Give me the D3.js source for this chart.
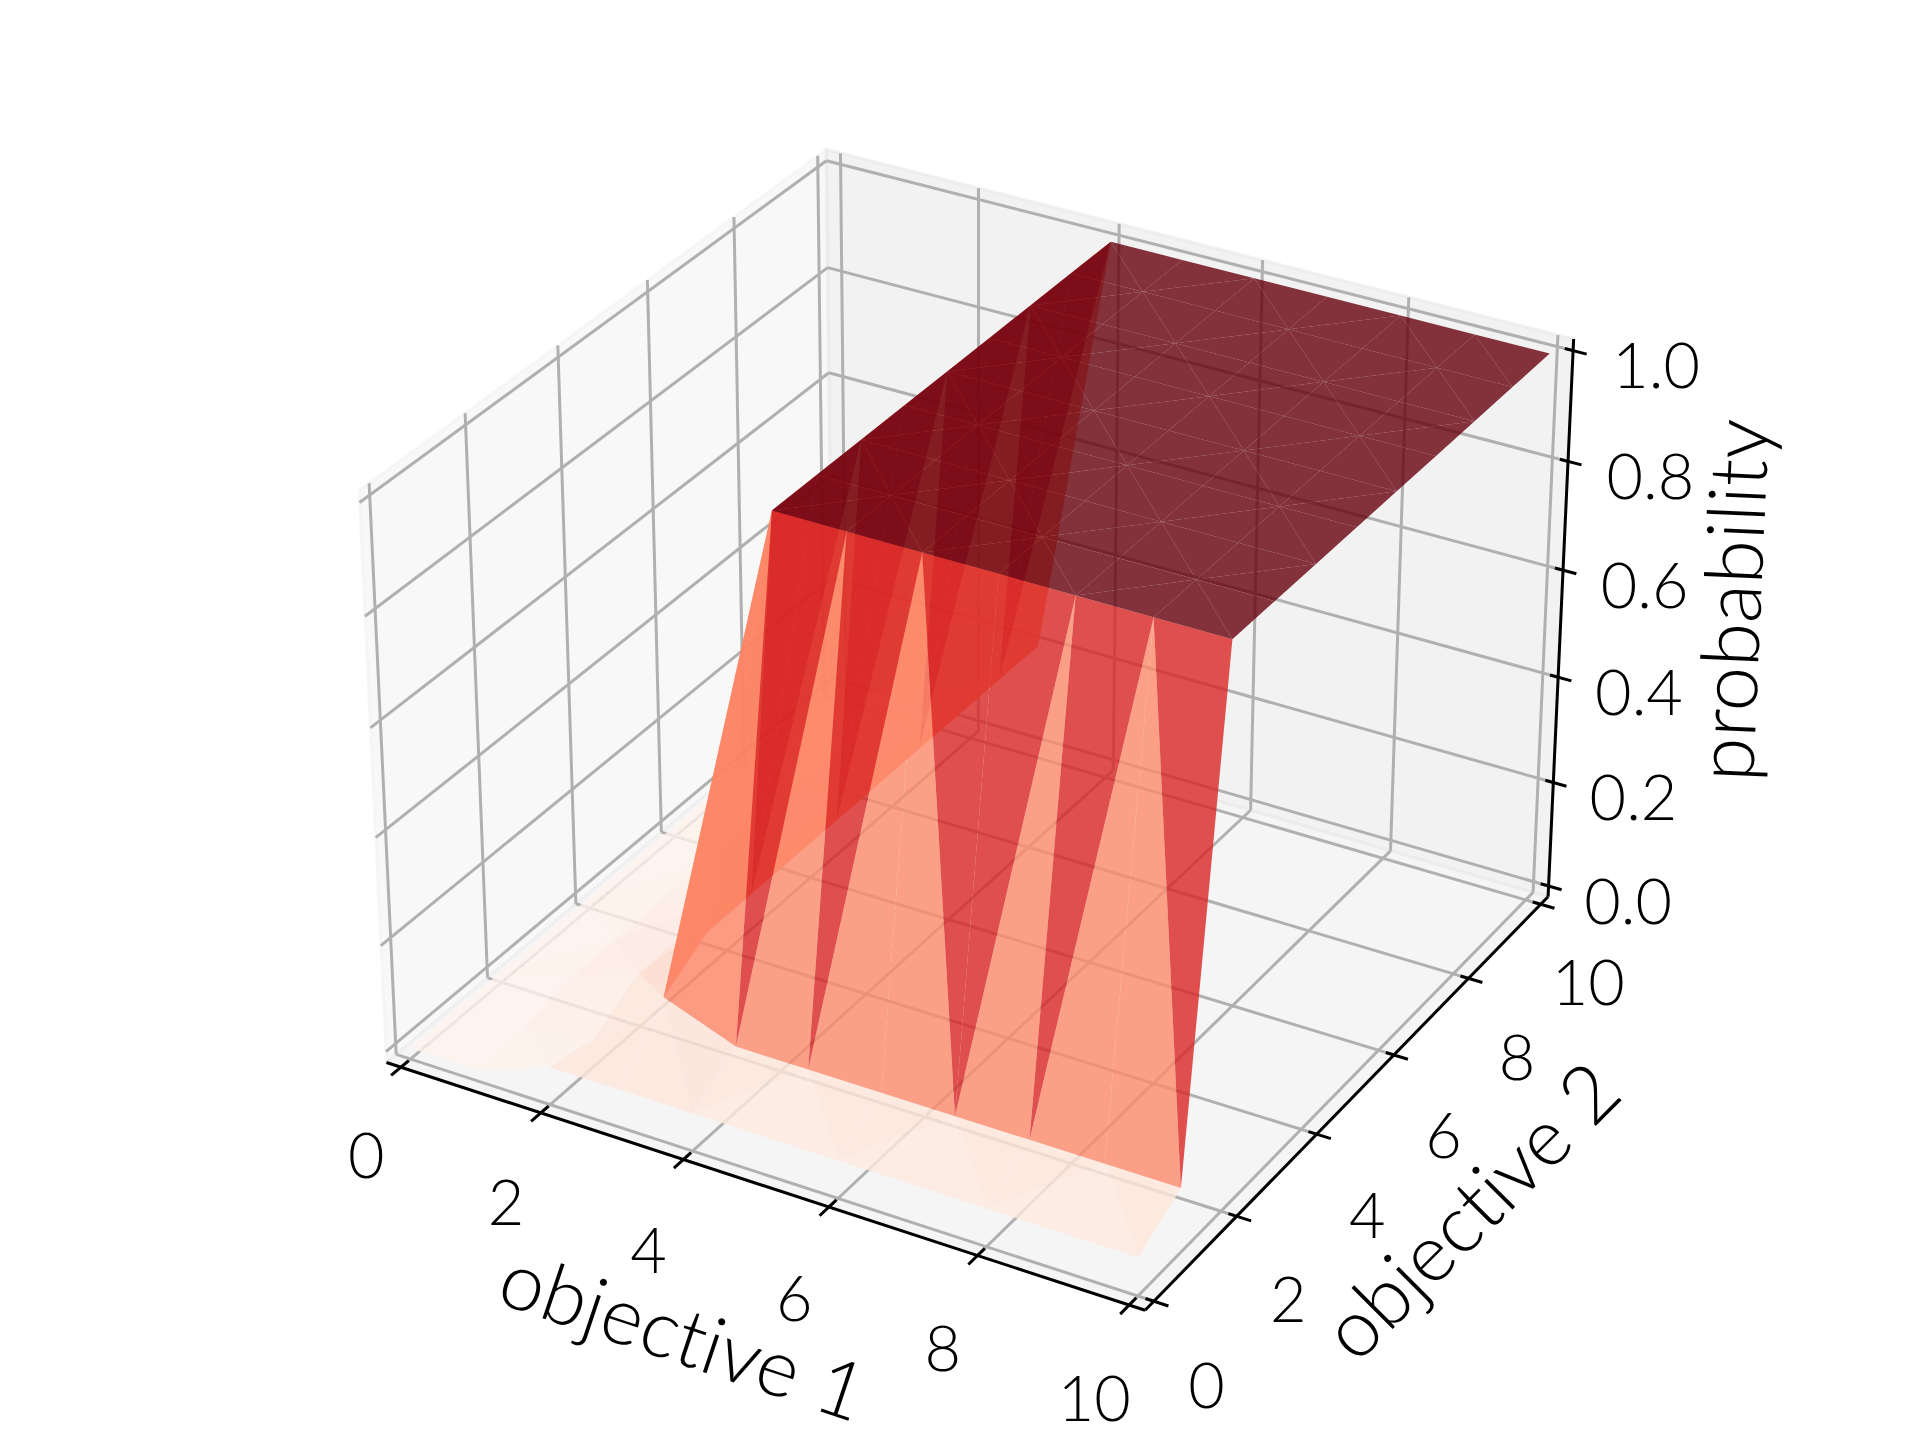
<!DOCTYPE html>
<html><head><meta charset="utf-8"><style>html,body{margin:0;background:#fff}text{font-family:Lato,sans-serif;font-weight:300;fill:#000;font-variant-ligatures:none;text-anchor:middle;dominant-baseline:central}</style>
<script src="https://cdn.jsdelivr.net/npm/d3@7"></script></head><body><svg id="c" width="1920" height="1440"></svg>
<script>
const xTicks=[0,2,4,6,8,10], yTicks=[0,2,4,6,8,10], zTicks=[0,.2,.4,.6,.8,1];
const xTickLabels=['0','2','4','6','8','10'], yTickLabels=['0','2','4','6','8','10'], zTickLabels=['0.0','0.2','0.4','0.6','0.8','1.0'];
const xGrid=[0,1,2,3,4,5,6,7,8,9,10], yGrid=[0,1,2,3,4,5,6,7,8,9,10];
const zRow0=[0,0,.05,.05,.05,.05,.05,.05,.05,.05,.05];
const zRow1=[0,.01,.03,.15,.1,.1,.1,.1,.1,.1,.1];
const zRowHigh=[0,.03,.08,.2,1,1,1,1,1,1,1];
const zGrid=[zRow0,zRow1,zRowHigh,zRowHigh,zRowHigh,zRowHigh,zRowHigh,zRowHigh,zRowHigh,zRowHigh,zRowHigh];
const flippedCells=['4,1','8,1','9,1','9,9'];
const redsStops=['#fff5f0','#fee0d2','#fcbba1','#fc9272','#fb6a4a','#ef3b2c','#cb181d','#a50f15','#67000d'];

const svg=d3.select('#c');
const S=7300,CX=978,CY=702,D=10;
const n=1.8294640721620434/Math.sqrt(41),box=[4*n,4*n,3*n];
const sx=d3.scaleLinear([0,10],[-box[0]/2,box[0]/2]),sy=d3.scaleLinear([0,10],[-box[1]/2,box[1]/2]),sz=d3.scaleLinear([0,1],[-box[2]/2,box[2]/2]);
const scr=d3.scaleLinear([-1,1],[CX-S,CX+S]),scrY=d3.scaleLinear([-1,1],[CY+S,CY-S]);
const r=Math.PI/180,el=30*r,az=-60*r;
const W=[Math.cos(el)*Math.cos(az),Math.cos(el)*Math.sin(az),Math.sin(el)],U=[-Math.sin(az),Math.cos(az),0],V=[-Math.sin(el)*Math.cos(az),-Math.sin(el)*Math.sin(az),Math.cos(el)];
const dot=(a,b)=>a[0]*b[0]+a[1]*b[1]+a[2]*b[2];
function P(x,y,z){const p=[sx(x),sy(y),sz(z)],d=D-dot(p,W);return [scr(dot(p,U)/d),scrY(dot(p,V)/d),d];}
const color=d3.scaleLinear().domain(redsStops.map((c,i)=>i/(redsStops.length-1))).range(redsStops);

const line=(a,b,c,w)=>{const p=P(...a),q=P(...b);svg.append('line').attr('x1',p[0]).attr('y1',p[1]).attr('x2',q[0]).attr('y2',q[1]).attr('stroke',c).attr('stroke-width',w)};
const pd=10/48,pz=1/48;
const poly=(pts,f)=>svg.append('polygon').attr('points',pts.map(p=>P(...p).slice(0,2).join(',')).join(' ')).attr('fill',f).attr('stroke',f).attr('stroke-width',3);
const x0=-pd,x1=10+pd,y0=-pd,y1=10+pd,z0=-pz,z1=1+pz;
poly([[x0,y0,z0],[x0,y1,z0],[x0,y1,z1],[x0,y0,z1]],'rgba(242,242,242,.5)');
poly([[x0,y1,z0],[x1,y1,z0],[x1,y1,z1],[x0,y1,z1]],'rgba(230,230,230,.5)');
poly([[x0,y0,z0],[x1,y0,z0],[x1,y1,z0],[x0,y1,z0]],'rgba(236,236,236,.5)');
xTicks.forEach(t=>{line([t,y0,z0],[t,y1,z0],'#b0b0b0',3);line([t,y1,z0],[t,y1,z1],'#b0b0b0',3)});
yTicks.forEach(t=>{line([x1,t,z0],[x0,t,z0],'#b0b0b0',3);line([x0,t,z0],[x0,t,z1],'#b0b0b0',3)});
zTicks.forEach(t=>{line([x0,y0,t],[x0,y1,t],'#b0b0b0',3);line([x0,y1,t],[x1,y1,t],'#b0b0b0',3)});
line([x0,y0,z0],[x1,y0,z0],'#000',3);
line([x1,y0,z0],[x1,y1,z0],'#000',3);
line([x1,y1,z0],[x1,y1,z1],'#000',3);
xTicks.forEach(t=>line([t,y0+.17,z0],[t,y0-.21,z0],'#000',3));
yTicks.forEach(t=>line([x1-.11,t,z0],[x1+.19,t,z0],'#000',3));
zTicks.forEach(t=>line([x1-.11,y1,t],[x1+.18,y1,t],'#000',3));

// surface
const tris=[];
for(let j=0;j<yGrid.length-1;j++)for(let i=0;i<xGrid.length-1;i++){
  const N=(a,b)=>[xGrid[a],yGrid[b],zGrid[b][a]];
  const A=N(i,j),B=N(i+1,j),C=N(i+1,j+1),E=N(i,j+1);
  let evenDiag=(i+j)%2===0; // A-C is the even diagonal
  if(flippedCells.includes(i+','+j))evenDiag=!evenDiag;
  if(evenDiag){tris.push([A,B,C],[A,C,E]);}else{tris.push([A,B,E],[B,C,E]);}
}
const faces=tris.map(t=>{const q=t.map(p=>P(...p));return {q,depth:d3.mean(q,v=>v[2]),z:d3.mean(t,v=>v[2])}});
faces.sort((a,b)=>d3.descending(a.depth,b.depth));
svg.append('g').selectAll('polygon').data(faces).join('polygon')
 .attr('points',f=>f.q.map(v=>v[0]+','+v[1]).join(' ')).attr('fill',f=>color(f.z)).attr('fill-opacity',.8);

const txt=(p,s,fs,rot)=>{const q=P(...p);svg.append('text').attr('transform',`translate(${q[0]},${q[1]}) rotate(${rot||0})`).attr('font-size',fs).text(s)};
xTicks.forEach((t,i)=>txt([t,y0-.8,z0-.105],xTickLabels[i],63));
yTicks.forEach((t,i)=>txt([x1+.7,t,z0-.12],yTickLabels[i],63));
zTicks.forEach((t,i)=>txt([x1+1,y1+.2,t],zTickLabels[i],63));
const lab=(xp,yp,s,fs,rot)=>svg.append('text').attr('transform',`translate(${xp},${yp}) rotate(${rot})`).attr('font-size',fs).text(s);
lab(684,1333,'objective 1',80,18.5);
lab(1469,1209,'objective 2',80,-45);
lab(1730,600,'probability',80,-87.5);
</script></body></html>
